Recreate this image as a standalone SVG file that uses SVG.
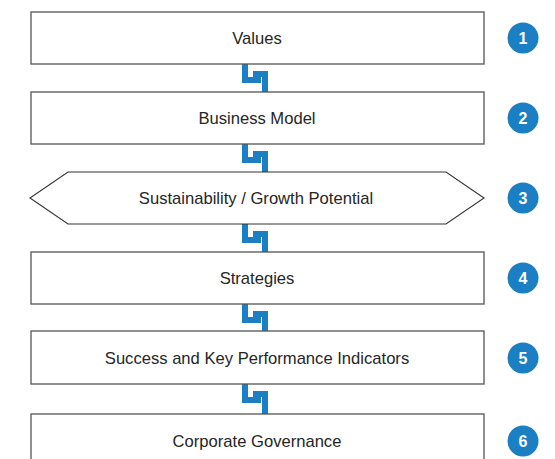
<svg xmlns="http://www.w3.org/2000/svg" width="555" height="459" viewBox="0 0 555 459">
  <defs>
    <style>
      .box { fill: #ffffff; stroke: #555555; stroke-width: 1.3; }
      .hex { fill: #ffffff; stroke: #333333; stroke-width: 1.1; stroke-linejoin: miter; }
      .label { font-family: "Liberation Sans", Arial, sans-serif; font-size: 16.6px; fill: #262626; text-anchor: middle; }
      .badge { fill: #1b7fc3; }
      .num { font-family: "Liberation Sans", Arial, sans-serif; font-size: 16px; font-weight: bold; fill: #ffffff; text-anchor: middle; }
      .link { fill: none; stroke: #1b7fc3; stroke-width: 6; stroke-linecap: butt; stroke-linejoin: miter; }
    </style>
    <!-- interlocking link glyph between stacked levels; origin = bottom edge of upper shape -->
    <g id="link-glyph">
      <path class="link" d="M245,0 V16 H261"/>
      <path class="link" d="M253,10 H265 V28"/>
    </g>
  </defs>

  <rect width="555" height="459" fill="#ffffff"/>

  <!-- connectors -->
  <g id="connectors">
    <use href="#link-glyph" transform="translate(0,64)"/>
    <use href="#link-glyph" transform="translate(0,144)"/>
    <use href="#link-glyph" transform="translate(0,224)"/>
    <use href="#link-glyph" transform="translate(0,304)"/>
    <path class="link" d="M245,384 V400 H261"/>
    <path class="link" d="M253,394 H265 V414"/>
  </g>

  <g id="values">
    <rect class="box" x="31" y="12" width="453" height="52"/>
    <text class="label" x="257" y="44">Values</text>
    <circle class="badge" cx="523" cy="38" r="15.5"/>
    <text class="num" x="523" y="43.8">1</text>
  </g>

  <g id="business-model">
    <rect class="box" x="31" y="92" width="453" height="52"/>
    <text class="label" x="257" y="124">Business Model</text>
    <circle class="badge" cx="523" cy="118" r="15.5"/>
    <text class="num" x="523" y="123.8">2</text>
  </g>

  <g id="sustainability">
    <polygon class="hex" points="68,172 446,172 484,198 446,224 68,224 30,198"/>
    <text class="label" x="256" y="204">Sustainability / Growth Potential</text>
    <circle class="badge" cx="523" cy="198" r="15.5"/>
    <text class="num" x="523" y="203.8">3</text>
  </g>

  <g id="strategies">
    <rect class="box" x="31" y="252" width="453" height="52"/>
    <text class="label" x="257" y="284">Strategies</text>
    <circle class="badge" cx="523" cy="278" r="15.5"/>
    <text class="num" x="523" y="283.8">4</text>
  </g>

  <g id="success-kpi">
    <rect class="box" x="31" y="331" width="453" height="53"/>
    <text class="label" x="257" y="363.5">Success and Key Performance Indicators</text>
    <circle class="badge" cx="523" cy="358" r="15.5"/>
    <text class="num" x="523" y="363.8">5</text>
  </g>

  <g id="corporate-governance">
    <rect class="box" x="31" y="414" width="453" height="54"/>
    <text class="label" x="257" y="447">Corporate Governance</text>
    <circle class="badge" cx="523" cy="441" r="15.5"/>
    <text class="num" x="523" y="446.8">6</text>
  </g>
</svg>
